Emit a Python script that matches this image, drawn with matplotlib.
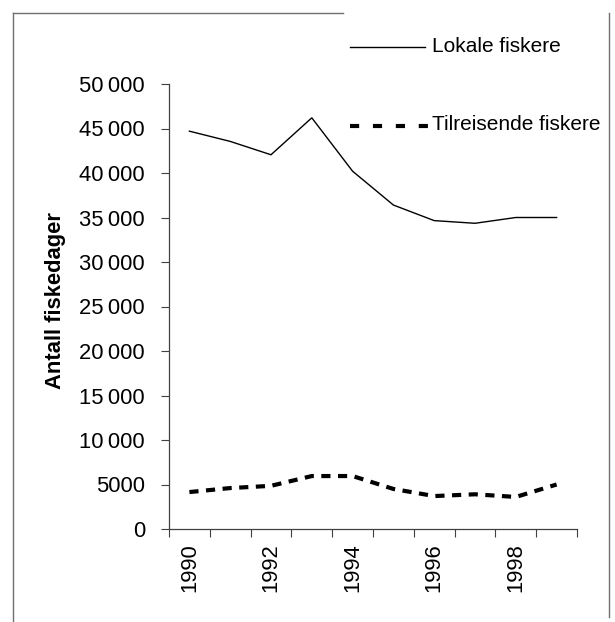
import matplotlib
matplotlib.use("Agg")
import matplotlib.pyplot as plt
from matplotlib.lines import Line2D
from matplotlib.ticker import FuncFormatter
import numpy as np

plt.rcParams['font.family'] = ['Liberation Sans', 'DejaVu Sans']

years = [1990, 1991, 1992, 1993, 1994, 1995, 1996, 1997, 1998, 1999]
lokale = [44700, 43550, 42050, 46200, 40200, 36400, 34650, 34350, 35000, 35000]
tilreisende = [4150, 4600, 4850, 5950, 5950, 4500, 3700, 3900, 3600, 5000]
year_labels = ['1990', '1992', '1994', '1996', '1998']

W, H = 615, 622
FS = 15.8
FS_LEG = 15.0


def fx(px):
    return px / W


def fy(py):
    return 1 - py / H


def thousands(v, pos):
    v = int(round(v))
    if v >= 10000:
        return '%d\u2009%03d' % (v // 1000, v % 1000)
    return str(v)


fig = plt.figure(figsize=(W / 100, H / 100), dpi=100)
ax = fig.add_axes([fx(169), fy(529), fx(577) - fx(169), fy(84) - fy(529)])

x = np.arange(len(years))
ax.plot(x, lokale, color='black', lw=1.0, solid_joinstyle='miter')
ax.plot(x, tilreisende, color='black', lw=3.0, dashes=(2.2, 1.8),
        dash_capstyle='butt')

ax.set_xlim(-0.5, len(years) - 0.5)
ax.set_ylim(0, 50000)
ax.set_yticks(np.arange(0, 50001, 5000))
ax.yaxis.set_major_formatter(FuncFormatter(thousands))

# ticks on category borders, labels on every second category
ax.set_xticks(np.arange(-0.5, len(years), 1.0))
ax.set_xticklabels([])
ax.set_xticks(x[::2], minor=True)
ax.set_xticklabels(year_labels, minor=True, rotation=90, fontsize=FS)
ax.tick_params(axis='x', which='minor', length=0, pad=10)
ax.tick_params(axis='x', which='major', length=5.8, width=0.8, direction='out',
               color='#404040')
ax.tick_params(axis='y', length=5.8, width=0.8, direction='out', pad=11.5,
               labelsize=FS, color='#404040')

for s in ['top', 'right']:
    ax.spines[s].set_visible(False)
for s in ['left', 'bottom']:
    ax.spines[s].set_color('#404040')
    ax.spines[s].set_linewidth(0.9)

fig.text(fx(55), fy(300), 'Antall fiskedager', rotation=90, ha='center',
         va='center', fontsize=FS, fontweight='bold')

# legend, placed like the original (loose entries)
fig.add_artist(Line2D([fx(350), fx(425)], [fy(47), fy(47)], color='black', lw=1.0,
                      transform=fig.transFigure))
fig.text(fx(432), fy(47), 'Lokale fiskere', ha='left', va='center', fontsize=FS_LEG)
fig.add_artist(Line2D([fx(350), fx(429)], [fy(126), fy(126)], color='black', lw=3.0,
                      dashes=(2.2, 3.3), dash_capstyle='butt',
                      transform=fig.transFigure))
fig.text(fx(432), fy(124), 'Tilreisende fiskere', ha='left', va='center',
         fontsize=FS_LEG)

# outer frame pieces
frame = '#707070'
fig.add_artist(Line2D([fx(13), fx(343)], [fy(13), fy(13)], color=frame, lw=1.0,
                      transform=fig.transFigure))
fig.add_artist(Line2D([fx(13), fx(13)], [fy(13), fy(622)], color=frame, lw=1.0,
                      transform=fig.transFigure))
fig.add_artist(Line2D([fx(609), fx(609)], [fy(13), fy(617)], color=frame, lw=1.0,
                      transform=fig.transFigure))

fig.savefig('out.png', dpi=100)
